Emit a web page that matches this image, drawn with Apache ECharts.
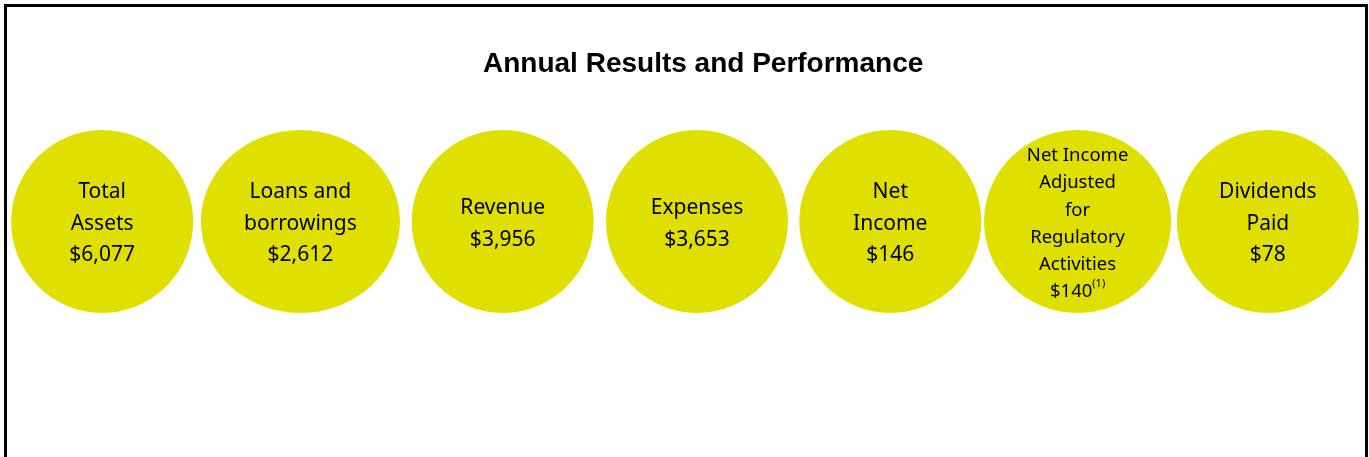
<!DOCTYPE html>
<html>
<head>
<meta charset="utf-8">
<script src="https://cdn.jsdelivr.net/npm/echarts@6/dist/echarts.min.js"></script>
<style>
  html, body { margin: 0; padding: 0; background: #fff; }
  #chart { position: absolute; left: 0; top: 0; width: 1369px; height: 457px; }
  #frame {
    position: absolute; left: 4px; top: 4px; width: 1358px; height: 470px;
    border: 3px solid #000; pointer-events: none;
  }
</style>
</head>
<body>
<div id="chart"></div>
<div id="frame"></div>
<script>
// metric names (line breaks as in the picture)
const metrics = [
  "Total\nAssets",
  "Loans and\nborrowings",
  "Revenue",
  "Expenses",
  "Net\nIncome",
  "Net Income\nAdjusted\nfor\nRegulatory\nActivities",
  "Dividends\nPaid",
];
// amounts in $ millions
const amounts = [6077, 2612, 3956, 3653, 146, 140, 78];
// footnote markers
const footnotes = ["", "", "", "", "", "(1)", ""];

const chart = echarts.init(document.getElementById("chart"));

const fmt = (v) => "$" + v.toLocaleString("en-US");

// the bubbles in the slide are not spaced quite evenly
const nudge = [0, 4, 12, 12, 11, 4, 0];
const bubbleWidth = (i) => (i === 1 ? 199 : i === 5 ? 187 : 182);

const seriesData = metrics.map((name, i) => {
  const small = name.split("\n").length > 3;
  const st = small ? "s" : "a";
  const lines = name.split("\n").map((l) => `{${st}|${l}}`);
  let last = `{${st}|${fmt(amounts[i])}}`;
  if (footnotes[i]) last += `{sup|${footnotes[i]}}`;
  lines.push(last);
  return {
    value: [i, 0],
    symbolSize: [bubbleWidth(i), 183],
    symbolOffset: [nudge[i], 0],
    label: { formatter: lines.join("\n") },
  };
});

const option = {
  animation: false,
  title: {
    text: "Annual Results and Performance",
    left: 478,
    top: 45,
    textStyle: {
      fontFamily: "Liberation Sans",
      fontSize: 28,
      fontWeight: "bold",
      color: "#000",
    },
  },
  grid: { left: 5, width: 1360, top: 130, bottom: 144 },
  xAxis: {
    type: "category",
    data: metrics,
    show: false,
  },
  yAxis: { type: "value", min: -1, max: 1, show: false },
  series: [
    {
      type: "scatter",
      data: seriesData,
      symbol: "circle",
      itemStyle: { color: "#e0e000", opacity: 1 },
      label: {
        show: true,
        position: "inside",
        offset: [0, 2.5],
        align: "center",
        verticalAlign: "middle",
        rich: {
          a: {
            fontFamily: "Noto Sans",
            fontSize: 21,
            lineHeight: 31.5,
            color: "#000",
            align: "center",
          },
          s: {
            fontFamily: "Noto Sans",
            fontSize: 18.5,
            lineHeight: 27.2,
            color: "#000",
            align: "center",
          },
          sup: {
            fontFamily: "Noto Sans",
            fontSize: 11,
            lineHeight: 14,
            verticalAlign: "top",
            color: "#000",
          },
        },
      },
      emphasis: { disabled: true },
    },
  ],
};

chart.setOption(option);
</script>
</body>
</html>
